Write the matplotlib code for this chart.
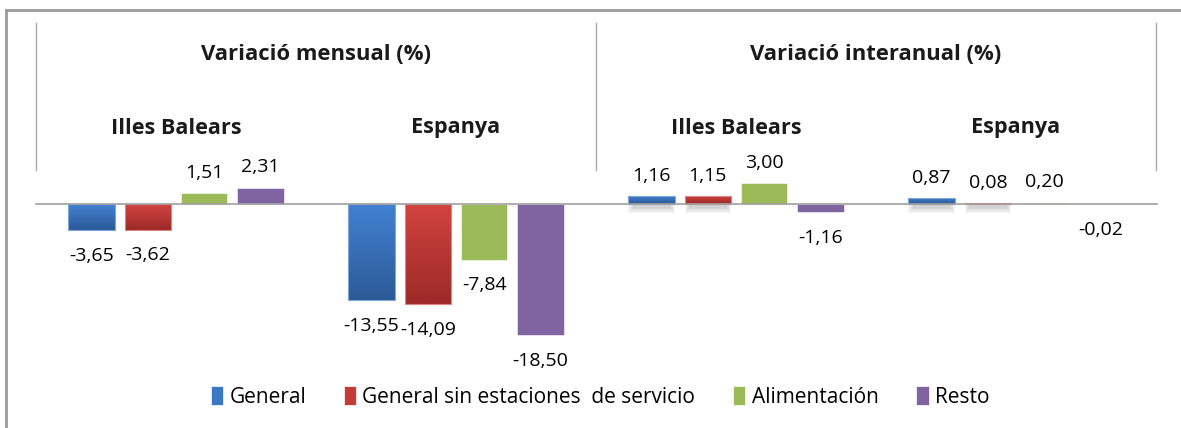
import numpy as np
import matplotlib
matplotlib.use("Agg")
import matplotlib.pyplot as plt
from matplotlib.lines import Line2D
from matplotlib.patches import Patch
from matplotlib.colors import LinearSegmentedColormap

plt.rcParams['font.family'] = ['Open Sans', 'DejaVu Sans']

# data
groups = ["Illes Balears", "Espanya", "Illes Balears", "Espanya"]
headers = ["Variació mensual (%)", "Variació interanual (%)"]
series = ["General", "General sin estaciones  de servicio", "Alimentación", "Resto"]
general = [-3.65, -13.55, 1.16, 0.87]
general_sin = [-3.62, -14.09, 1.15, 0.08]
alimentacion = [1.51, -7.84, 3.00, 0.20]
resto = [2.31, -18.50, -1.16, -0.02]
values = [general, general_sin, alimentacion, resto]

colors = ["#3b78c4", "#c23c3a", "#9bbb59", "#8064a2"]
grad_top = {0: "#4282d2", 1: "#d24440"}
grad_bot = {0: "#2c5a96", 1: "#9c2a28"}
edge_light = {0: "#7ea6da", 1: "#dc8482"}

W, H = 1181, 428
fig = plt.figure(figsize=(W / 100, H / 100), dpi=100)
ax = fig.add_axes([0, 0, 1, 1])
ax.axis("off")

# pixel layout of the original
x0_px, unit_px, zero_px, yscale = 176, 280, 204, 7.1
def px2x(p):
    return (p - x0_px) / unit_px
def px2y(p):
    return (zero_px - p) / yscale

centers = np.arange(len(groups))
step, width = 0.201, 0.166

for i, vals in enumerate(values):
    xs = centers + (i - 1.5) * step
    if i < 2:
        bars = ax.bar(xs, vals, width, facecolor="none", edgecolor=edge_light[i],
                      linewidth=0.8, zorder=2.2)
        cmap = LinearSegmentedColormap.from_list("g", [grad_bot[i], grad_top[i]])
        grad = np.linspace(0, 1, 64).reshape(-1, 1)
        for b, v in zip(bars, vals):
            x, w = b.get_x(), b.get_width()
            lo, hi = min(0, v), max(0, v)
            im = ax.imshow(grad, extent=[x, x + w, lo, hi], origin="lower",
                           aspect="auto", cmap=cmap, zorder=2.1)
            im.set_clip_path(b)
            if v > 0:
                # soft shadow under the small positive bars
                for k in range(5):
                    ax.add_patch(plt.Rectangle((x + 0.004 * k, -1.3 + 0.2 * k), w - 0.008 * k,
                                               1.3 - 0.2 * k, color="#808080", alpha=0.08,
                                               lw=0, zorder=1))
    else:
        bars = ax.bar(xs, vals, width, color=colors[i], edgecolor="white",
                      linewidth=0.4, zorder=2)
    for b, v in zip(bars, vals):
        lab = f"{v:.2f}".replace(".", ",")
        xc = b.get_x() + b.get_width() / 2
        if v >= 0:
            ax.annotate(lab, (xc, v), xytext=(0, 8), textcoords="offset points",
                        ha="center", va="bottom", fontsize=14, color="black")
        else:
            ax.annotate(lab, (xc, v), xytext=(0, -12), textcoords="offset points",
                        ha="center", va="top", fontsize=14, color="black")

# axis line
ax.plot([px2x(36), px2x(1157)], [0, 0], color="#a0a0a0", lw=1.2, zorder=3)

# separators
for p in [36, 596, 1156]:
    ax.plot([px2x(p), px2x(p)], [px2y(23), px2y(170)], color="#a6a6a6", lw=1.0)

# headers
ax.text(centers[:2].mean(), px2y(55), headers[0], ha="center", va="center",
        fontsize=15.8, fontweight="bold", color="#1a1a1a")
ax.text(centers[2:].mean(), px2y(55), headers[1], ha="center", va="center",
        fontsize=15.8, fontweight="bold", color="#1a1a1a")
for c, g in zip(centers, groups):
    ax.text(c, px2y(128), g, ha="center", va="center", fontsize=15.6,
            fontweight="bold", color="#1a1a1a")

ax.set_xlim(px2x(0), px2x(W))
ax.set_ylim(px2y(H), px2y(0))

# outer frame (left and top visible)
fig.add_artist(Line2D([6 / W, 6 / W], [0, 1 - 10 / H], transform=fig.transFigure,
                      color="#9a9a9a", lw=2))
fig.add_artist(Line2D([6 / W, 1], [1 - 10 / H, 1 - 10 / H], transform=fig.transFigure,
                      color="#9a9a9a", lw=2))

handles = [Patch(facecolor=c, edgecolor="white", linewidth=0.5) for c in colors]
fig.legend(handles, series, loc="center", bbox_to_anchor=(600 / W, 1 - 397 / H),
           ncol=4, frameon=False, fontsize=15, handlelength=0.6, handleheight=1.0,
           handletextpad=0.3, columnspacing=1.8)

fig.savefig("out.png", dpi=100)
